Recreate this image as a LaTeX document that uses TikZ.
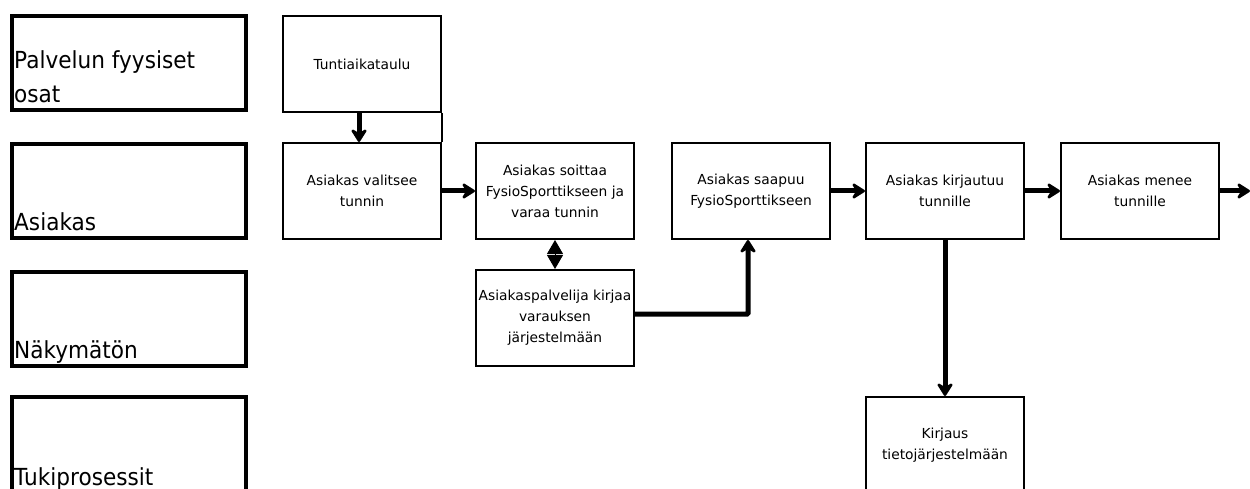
\documentclass[tikz,border=0pt]{standalone}
\usepackage{fontspec}
\setmainfont{DejaVu Sans}
\newfontfamily\lanefont{DejaVu Sans}[FakeStretch=0.92]
\usetikzlibrary{arrows.meta}
\begin{document}
\begin{tikzpicture}[x=1pt,y=-1pt,
  lane/.style={draw,line width=4pt,minimum width=234pt,minimum height=94pt,inner sep=0pt,outer sep=0pt},
  lanetext/.style={anchor=base west,inner sep=0pt,font=\lanefont\fontsize{23.5}{33.5}\selectfont,align=left},
  proc/.style={draw,line width=2pt,minimum width=158pt,minimum height=96pt,align=center,
    font=\fontsize{13.8}{21}\selectfont,inner sep=2pt},
  flow/.style={line width=5pt,-{Stealth[length=16pt,width=20pt,inset=6pt,line join=round]}}]
\useasboundingbox (0,0) rectangle (1250,489);
% swimlane headers
\node[lane] (l1) at (129,63.5) {};
\node[lane] (l2) at (129,191) {};
\node[lane] (l3) at (129,318.5) {};
\node[lane] (l4) at (129,444) {};
\node[lanetext] (t1) at (14,102.5) {Palvelun fyysiset\\osat};
\node[lanetext] (t2) at (14,230) {Asiakas};
\node[lanetext] (t3) at (14,358) {Näkymätön};
\node[lanetext] (t4) at (14,485) {Tukiprosessit};
% process steps
\node[proc] (tunti) at (362,64) {Tuntiaikataulu};
\node[proc] (valitsee) at (362,191) {Asiakas valitsee\\tunnin};
\node[proc] (soittaa) at (555,191) {Asiakas soittaa\\FysioSporttikseen ja\\varaa tunnin};
\node[proc] (palvelija) at (555,318) {Asiakaspalvelija kirjaa\\varauksen\\järjestelmään};
\node[proc] (saapuu) at (751,191) {Asiakas saapuu\\FysioSporttikseen};
\node[proc] (kirjautuu) at (945,191) {Asiakas kirjautuu\\tunnille};
\node[proc] (menee) at (1140,191) {Asiakas menee\\tunnille};
\node[proc] (kirjaus) at (945,445) {Kirjaus\\tietojärjestelmään};
\coordinate (ulos) at (1250,191);
% connectors
\draw[flow] (tunti.south -| 359,0) -- (valitsee.north -| 359,0);
\draw[line width=2pt] (tunti.south east) -- (valitsee.north east);
\draw[flow] (valitsee.east) -- (soittaa.west);
\draw[line width=1pt,{Triangle[length=14pt,width=16pt]}-{Triangle[length=14pt,width=16pt]}] (soittaa.south) -- (palvelija.north);
\draw[flow,rounded corners=1pt] (palvelija.east |- 0,314) -| (saapuu.south -| 748,0);
\draw[flow] (saapuu.east) -- (kirjautuu.west);
\draw[flow] (kirjautuu.east) -- (menee.west);
\draw[flow] (menee.east) -- (ulos);
\draw[flow] (kirjautuu.south) -- (kirjaus.north);
\end{tikzpicture}
\end{document}
